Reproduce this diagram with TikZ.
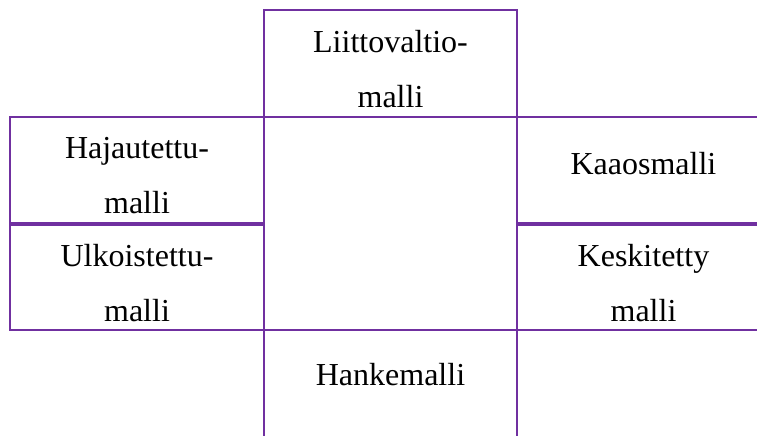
\documentclass[tikz,border=0pt]{standalone}
\usepackage{fontspec}
\setmainfont{Liberation Serif}
\definecolor{boxpurple}{HTML}{7030A0}
\begin{document}
\begin{tikzpicture}[x=0.5pt,y=-0.5pt,
  cell/.style={draw=boxpurple,line width=1.3pt,rectangle,inner sep=0pt},
  lbl/.style={align=center,font=\fontsize{16}{27.5}\selectfont,text=black,inner sep=0pt}]
\useasboundingbox (0,0) rectangle (757,435);
\clip (0,0) rectangle (757,435);
\node[cell,minimum width=253pt*0.5,minimum height=107pt*0.5,
  label={[lbl,yshift=-3pt]center:Liittovaltio-\\malli}] (liitto) at (390.5,63.5) {};
\node[cell,minimum width=254pt*0.5,minimum height=106pt*0.5,
  label={[lbl,yshift=-3pt]center:Hajautettu-\\malli}] (haja) at (137,170) {};
\node[cell,minimum width=254pt*0.5,minimum height=105pt*0.5,
  label={[lbl,yshift=-3pt]center:Ulkoistettu-\\malli}] (ulko) at (137,277.5) {};
\node[cell,minimum width=253pt*0.5,minimum height=106pt*0.5,
  label={[lbl,yshift=3pt]center:Kaaosmalli}] (kaaos) at (643.5,170) {};
\node[cell,minimum width=253pt*0.5,minimum height=105pt*0.5,
  label={[lbl,yshift=-3pt]center:Keskitetty\\malli}] (kesk) at (643.5,277.5) {};
\node[cell,minimum width=253pt*0.5,minimum height=110pt*0.5,
  label={[lbl,yshift=5pt]center:Hankemalli}] (hanke) at (390.5,385) {};
\end{tikzpicture}
\end{document}
